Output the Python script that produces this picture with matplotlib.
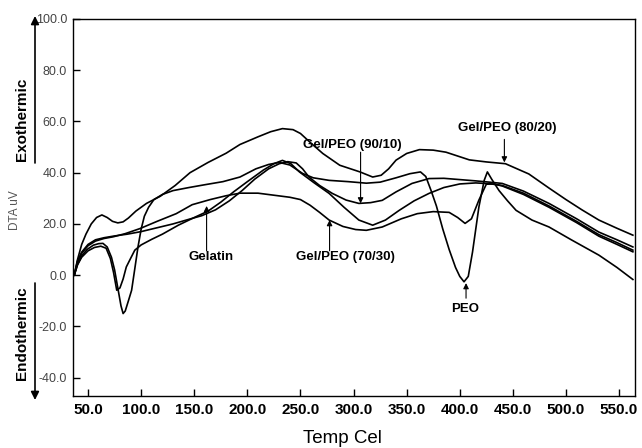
"""
DTA curves of gelatin / PEO blends
"""
import matplotlib
matplotlib.use("Agg")
import matplotlib.pyplot as plt

plt.rcParams['font.family'] = ['Liberation Sans', 'DejaVu Sans']

# temperature (Cel) and DTA signal (uV)
t_8020 = [37, 40, 44, 48, 53, 58, 63, 68, 73, 78, 83, 88, 95, 105, 118, 132, 146, 163, 180, 193,
          210, 222, 233, 243, 250, 260, 271, 287, 306, 318, 326, 333, 340, 350, 362, 375, 387, 398,
          409, 425, 443, 465, 484, 500, 515, 531, 548, 563]
dta_8020 = [0, 6, 12, 16, 20, 22.5, 23.5, 22.5, 21, 20.4, 20.8, 22.3, 25, 28, 30.8, 35, 40, 44, 47.6, 51,
            54, 56, 57.2, 56.8, 55.3, 51.5, 47.5, 42.9, 40.3, 38.3, 39, 41.5, 44.9, 47.5, 49, 48.8, 48, 46.5,
            45, 44.2, 43.5, 39.5, 34, 29.5, 25.5, 21.5, 18.3, 15.6]

t_peo = [37, 40, 44, 49, 55, 60, 64, 68, 72, 75, 78, 81, 83, 85, 88, 91, 94, 97, 100, 103,
         107, 112, 120, 130, 145, 160, 177, 193, 208, 220, 230, 240, 252, 262, 277, 295, 312, 325,
         340, 353, 363, 368, 373, 378, 384, 390, 396, 400, 404, 408, 412, 418, 423, 426, 430, 437,
         445, 453, 468, 484, 505, 531, 548, 563]
dta_peo = [0, 4, 7.5, 10, 11.7, 12.3, 12.4, 11, 7, 2, -5, -12, -15, -14, -10, -5.9, 2.5, 11, 18, 23,
           26.5, 29.5, 31.5, 33, 34.2, 35.3, 36.5, 38.3, 41.5, 43.2, 44, 43, 39.7, 38, 37, 36.5, 35.9, 36.3,
           38, 39.6, 40.3, 38.5, 33, 27, 18, 10, 3, -0.5, -2.6, -0.5, 9, 26.6, 37, 40.3, 37.5, 33,
           29, 25.3, 21.5, 18.8, 13.8, 7.8, 3, -1.7]

t_7030 = [37, 40, 44, 50, 57, 65, 74, 85, 99, 115, 133, 148, 165, 180, 193, 210, 225, 240, 250, 259,
          268, 277, 290, 302, 312, 327, 345, 360, 375, 390, 398, 405, 411, 418, 425, 432, 440, 460,
          484, 510, 531, 548, 563]
dta_7030 = [0, 5, 8.5, 11.5, 13.3, 14.3, 15, 16.2, 18.2, 21, 24, 27.5, 29.5, 31, 32, 32, 31.2, 30.4, 29.5, 27.3,
            24.5, 21.5, 19, 17.8, 17.5, 18.8, 22, 24, 24.8, 24.5, 22.5, 20.2, 22, 29.3, 35.5, 35.6, 34.8, 31.5,
            26.5, 20.5, 15.2, 12, 9.1]

t_gel = [37, 40, 44, 50, 56, 62, 67, 71, 74, 77, 80, 83, 86, 90, 94, 100, 110, 120, 135, 150,
         163, 175, 187, 200, 215, 225, 233, 241, 249, 263, 277, 291, 305, 318, 330, 343, 357, 371,
         385, 400, 415, 428, 440, 460, 484, 510, 531, 548, 563]
dta_gel = [0, 4, 7, 9.5, 10.8, 11.3, 10.5, 6.5, 1, -5.9, -5, -1.5, 3.2, 6.5, 9.75, 11.8, 14, 16, 19.5, 22.5,
           25, 28.5, 32.5, 36.5, 41, 43.5, 44.8, 43.5, 40.3, 36, 31.9, 26.5, 21.5, 19.5, 21.5, 25.3, 29, 31.9,
           34.2, 35.6, 36, 35.7, 35, 32, 27, 21, 15.8, 12.7, 9.75]

t_9010 = [37, 40, 44, 50, 57, 65, 75, 87, 100, 115, 130, 145, 157, 170, 183, 195, 207, 220, 230, 238,
          246, 252, 258, 268, 280, 293, 305, 316, 327, 340, 355, 371, 385, 400, 415, 428, 440, 460,
          484, 510, 531, 548, 563]
dta_9010 = [0, 5.5, 9, 12, 13.8, 14.6, 15.3, 16, 17, 18.5, 20, 21.8, 23.2, 25.5, 29, 33, 37.5, 41.5, 43.5, 44.3,
            43.8, 41.5, 38.3, 35, 31.9, 29.3, 28, 28.3, 29.2, 32.5, 35.8, 37.7, 37.8, 37.3, 36.8, 36.3, 35.8, 32.8,
            28, 22, 16.8, 13.8, 11]

xticks = [50, 100, 150, 200, 250, 300, 350, 400, 450, 500, 550]
yticks = [-40, -20, 0, 20, 40, 60, 80, 100]

fig = plt.figure(figsize=(6.42, 4.48), dpi=100)
ax = fig.add_axes([0.1132, 0.116, 0.8759, 0.8416])

for t, d in [(t_8020, dta_8020), (t_peo, dta_peo), (t_7030, dta_7030),
             (t_gel, dta_gel), (t_9010, dta_9010)]:
    ax.plot(t, d, color='black', lw=1.2)

ax.set_xlim(35.5, 565)
ax.set_ylim(-47.2, 100)
ax.set_xticks(xticks)
ax.set_xticklabels([f"{v:.1f}" for v in xticks], fontsize=11, fontweight='bold')
ax.set_yticks(yticks)
ax.set_yticklabels([f"{v:.1f}" for v in yticks], fontsize=9, color='#444444')
ax.tick_params(direction='in', length=5, width=1)
ax.tick_params(axis='x', pad=5)
ax.tick_params(axis='y', pad=4)
for s in ax.spines.values():
    s.set_linewidth(1.0)

# labels pointing to the curves
arw = dict(arrowstyle='-|>', color='black', lw=0.8, mutation_scale=8, shrinkA=0, shrinkB=0)
lbl = dict(fontsize=9.5, fontweight='bold', ha='center', va='center')
ax.annotate('', xy=(161.6, 27), xytext=(161.6, 9.5), arrowprops=arw)
ax.text(165.4, 7.0, 'Gelatin', **lbl)
ax.annotate('', xy=(277.4, 21.5), xytext=(277.4, 9.5), arrowprops=arw)
ax.text(292.5, 7.0, 'Gel/PEO (70/30)', **lbl)
ax.annotate('', xy=(306.6, 28), xytext=(306.6, 48), arrowprops=arw)
ax.text(299, 50.7, 'Gel/PEO (90/10)', **lbl)
ax.annotate('', xy=(442, 44), xytext=(442, 53), arrowprops=arw)
ax.text(444.7, 57.3, 'Gel/PEO (80/20)', **lbl)
ax.annotate('', xy=(405.9, -3.1), xytext=(405.9, -9), arrowprops=arw)
ax.text(405.3, -13.3, 'PEO', **lbl)

# side notes
fig.text(342 / 642, 1 - 438 / 448, 'Temp Cel', ha='center', va='center', fontsize=13.5)
fig.text(15 / 642, 1 - 210 / 448, 'DTA uV', rotation=90, ha='center', va='center',
         fontsize=8.5, color='#555555')
fig.text(22 / 642, 1 - 119 / 448, 'Exothermic', rotation=90, ha='center', va='center',
         fontsize=11, fontweight='bold')
fig.text(22 / 642, 1 - 333 / 448, 'Endothermic', rotation=90, ha='center', va='center',
         fontsize=11, fontweight='bold')
big = dict(arrowstyle='-|>', color='black', lw=1.2, mutation_scale=12, shrinkA=0, shrinkB=0)
ax.annotate('', xy=(35, 448 - 16), xytext=(35, 448 - 163), xycoords='figure pixels',
            textcoords='figure pixels', arrowprops=big, annotation_clip=False)
ax.annotate('', xy=(35, 448 - 400), xytext=(35, 448 - 283), xycoords='figure pixels',
            textcoords='figure pixels', arrowprops=big, annotation_clip=False)

fig.savefig("out.png", dpi=100)
